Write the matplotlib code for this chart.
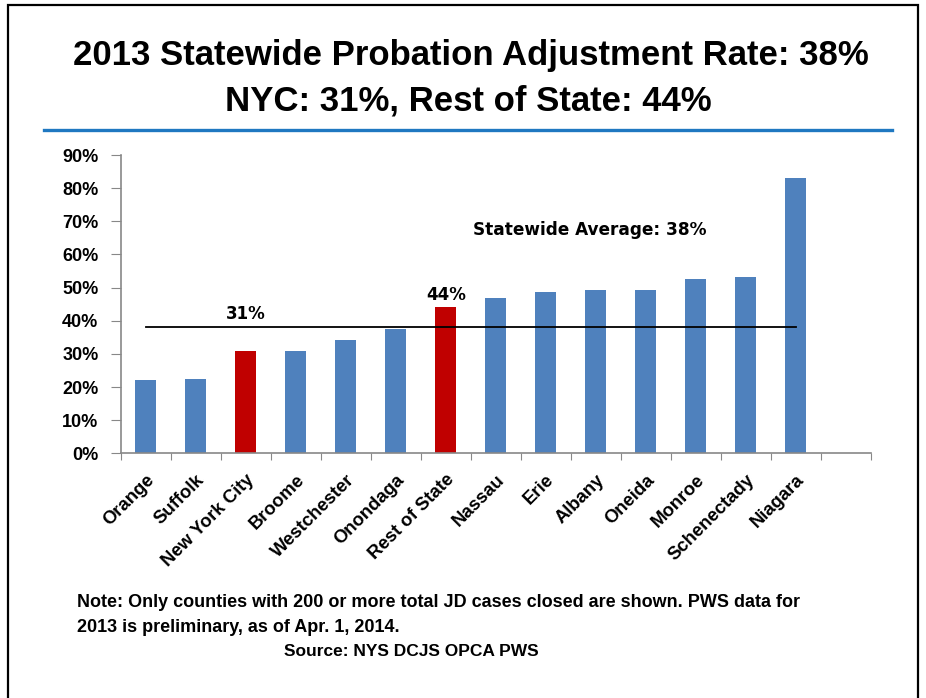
import numpy as np
import matplotlib
matplotlib.use("Agg")
import matplotlib.pyplot as plt
from matplotlib.patches import Rectangle
from matplotlib.lines import Line2D
from matplotlib.ticker import PercentFormatter

counties = ["Orange", "Suffolk", "New York City", "Broome", "Westchester",
            "Onondaga", "Rest of State", "Nassau", "Erie", "Albany", "Oneida",
            "Monroe", "Schenectady", "Niagara"]
rates = [0.221, 0.225, 0.31, 0.308, 0.342, 0.375, 0.44, 0.469, 0.486,
         0.492, 0.492, 0.525, 0.531, 0.83]
highlight = ["New York City", "Rest of State"]
statewide_avg = 0.38

blue = "#4F81BD"
red = "#C00000"
sans = "Liberation Sans"

fig = plt.figure(figsize=(9.26, 6.98), dpi=100)

# slide frame and heading
fig.patches.append(Rectangle((8 / 926, -0.02), 910 / 926, 1.02 - 5 / 698,
                             transform=fig.transFigure, fill=False,
                             edgecolor="black", linewidth=1.6))
fig.text(0.508, 1 - 65 / 698, "2013 Statewide Probation Adjustment Rate: 38%",
         ha="center", va="baseline", fontsize=25, fontweight="bold",
         family=sans)
fig.text(0.506, 1 - 110 / 698, "NYC: 31%, Rest of State: 44%",
         ha="center", va="baseline", fontsize=25, fontweight="bold",
         family=sans)
fig.lines.append(Line2D([44 / 926, 892 / 926], [1 - 130 / 698] * 2,
                        transform=fig.transFigure, color="#1F78C1", lw=2.4))

ax = fig.add_axes([120.7 / 926, 244.7 / 698, 750 / 926, 298.3 / 698])

x = np.arange(len(counties))
colors = [red if c in highlight else blue for c in counties]
ax.bar(x, rates, width=0.41, color=colors, zorder=2)

# statewide average line spans first to last county
ax.plot([x[0], x[-1]], [statewide_avg] * 2, color="black", lw=1.3, zorder=3)
ax.text(8.89, 0.673, "Statewide Average: 38%", ha="center", va="center",
        fontsize=12.2, fontweight="bold")
for name in highlight:
    i = counties.index(name)
    ax.text(x[i], rates[i] + 0.01 if rates[i] > statewide_avg else statewide_avg + 0.012,
            f"{rates[i]:.0%}", ha="center", va="bottom", fontsize=12,
            fontweight="bold")

ax.set_xlim(-0.5, 14.5)
ax.set_ylim(0, 0.9)
ax.set_yticks(np.arange(0, 0.91, 0.1))
ax.yaxis.set_major_formatter(PercentFormatter(1.0, decimals=0))

ax.set_xticks(np.arange(-0.5, 14.6, 1.0))
ax.set_xticklabels([])
ax.set_xticks(x, minor=True)
ax.set_xticklabels(counties, minor=True, rotation=45, ha="right",
                   rotation_mode="anchor", fontsize=13.3, fontweight="bold",
                   family=sans)
ax.tick_params(axis="x", which="minor", length=0, pad=13)
ax.tick_params(axis="x", which="major", length=5, color="#888888")
ax.tick_params(axis="y", length=7, color="#888888", pad=9)
for lbl in ax.get_yticklabels():
    lbl.set_fontsize(13)
    lbl.set_fontweight("bold")
    lbl.set_family(sans)

for side in ["top", "right"]:
    ax.spines[side].set_visible(False)
for side in ["left", "bottom"]:
    ax.spines[side].set_color("#888888")
    ax.spines[side].set_linewidth(1.2)

fig.text(77 / 926, 1 - 607 / 698,
         "Note: Only counties with 200 or more total JD cases closed are shown. PWS data for",
         ha="left", va="baseline", fontsize=13, fontweight="bold", family=sans)
fig.text(77 / 926, 1 - 632 / 698, "2013 is preliminary, as of Apr. 1, 2014.",
         ha="left", va="baseline", fontsize=13, fontweight="bold", family=sans)
fig.text(411 / 926, 1 - 656 / 698, "Source: NYS DCJS OPCA PWS",
         ha="center", va="baseline", fontsize=12.5, fontweight="bold", family=sans)

fig.savefig("out.png", dpi=100)
